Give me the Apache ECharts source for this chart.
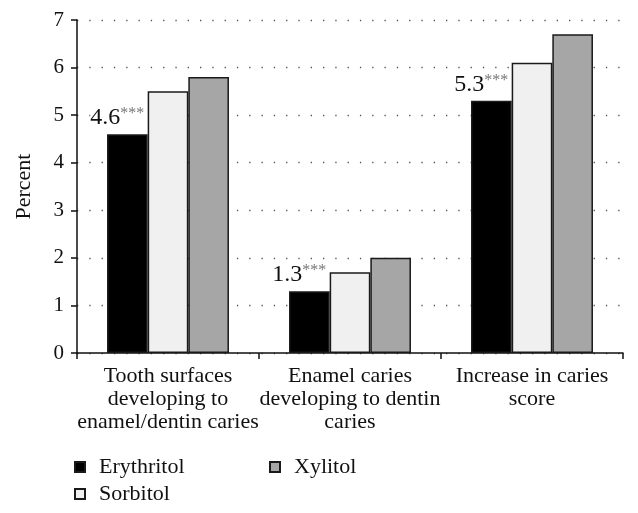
<!DOCTYPE html>
<html>
<head>
<meta charset="utf-8">
<script src="https://cdn.jsdelivr.net/npm/echarts@6/dist/echarts.min.js"></script>
<style>html,body{margin:0;padding:0;background:#fff;}#c{width:638px;height:513px;}</style>
</head>
<body>
<div id="c"></div>
<script>
const categories = ['Tooth surfaces\ndeveloping to\nenamel/dentin caries', 'Enamel caries\ndeveloping to dentin\ncaries', 'Increase in caries\nscore'];
const seriesNames = ['Erythritol', 'Sorbitol', 'Xylitol'];
const erythritol = [4.6, 1.3, 5.3];
const sorbitol = [5.5, 1.7, 6.1];
const xylitol = [5.8, 2.0, 6.7];
const yTicks = [0, 1, 2, 3, 4, 5, 6, 7];
const colors = ['#000000', '#f0f0f0', '#a6a6a6'];

const FONT = '"Liberation Serif", "DejaVu Serif", serif';
const chart = echarts.init(document.getElementById('c'), null, {renderer: 'canvas'});

function mkSeries(name, data, color, withLabel) {
  const s = {
    name: name,
    type: 'bar',
    data: data,
    barGap: '0%',
    barCategoryGap: '33%',
    itemStyle: {color: color, borderColor: '#1a1a1a', borderWidth: 1.5},
    emphasis: {disabled: true}
  };
  if (withLabel) {
    s.label = {
      show: true,
      position: 'top',
      distance: 4,
      offset: [-10, 0],
      formatter: '{a|{c}}{b|***}',
      backgroundColor: '#fff',
      rich: {
        a: {fontFamily: FONT, fontSize: 24, color: '#111', lineHeight: 24},
        b: {fontFamily: FONT, fontSize: 16, color: '#777', verticalAlign: 'top', lineHeight: 24, padding: [0, 0, 8, 0]}
      }
    };
  }
  return s;
}

const legendText = {fontFamily: FONT, fontSize: 22, color: '#111', lineHeight: 22, padding: [0, 0, 0, 9]};

chart.setOption({
  backgroundColor: '#fff',
  animation: false,
  grid: {left: 77, right: 15, top: 20, bottom: 160, containLabel: false},
  legend: [
    {
      data: ['Erythritol', 'Sorbitol'],
      orient: 'vertical',
      left: 69,
      top: 451,
      itemWidth: 10,
      itemHeight: 10,
      itemGap: 5,
      icon: 'rect',
      selectedMode: false,
      textStyle: legendText
    },
    {
      data: ['Xylitol'],
      orient: 'vertical',
      left: 264,
      top: 451,
      itemWidth: 10,
      itemHeight: 10,
      itemGap: 5,
      icon: 'rect',
      selectedMode: false,
      textStyle: legendText
    }
  ],
  xAxis: {
    type: 'category',
    data: categories,
    axisLine: {show: true, lineStyle: {color: '#111', width: 1.5}},
    axisTick: {show: true, length: 6, lineStyle: {color: '#111', width: 1.5}},
    axisLabel: {fontFamily: FONT, fontSize: 22, color: '#111', lineHeight: 23, margin: 12, interval: 0},
    splitLine: {show: false}
  },
  yAxis: {
    type: 'value',
    min: 0,
    max: 7,
    interval: 1,
    name: 'Percent',
    nameLocation: 'middle',
    nameGap: 42,
    nameRotate: 90,
    nameTextStyle: {fontFamily: FONT, fontSize: 22, color: '#111'},
    axisLine: {show: true, lineStyle: {color: '#111', width: 1.5}},
    axisTick: {show: true, length: 6, lineStyle: {color: '#111', width: 1.5}},
    axisLabel: {
      fontFamily: FONT, fontSize: 21, color: '#111', margin: 13,
      formatter: function (v) { return yTicks.indexOf(v) >= 0 ? String(v) : ''; }
    },
    splitLine: {show: true, lineStyle: {color: '#555', width: 1.3, type: [1.3, 11]}}
  },
  series: [
    mkSeries(seriesNames[0], erythritol, colors[0], true),
    mkSeries(seriesNames[1], sorbitol, colors[1], false),
    mkSeries(seriesNames[2], xylitol, colors[2], false)
  ]
});
</script>
</body>
</html>
